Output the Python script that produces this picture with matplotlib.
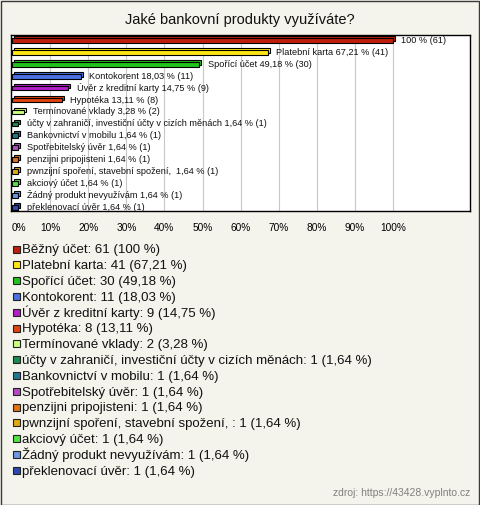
import matplotlib
matplotlib.use("Agg")
import matplotlib.pyplot as plt
from matplotlib.patches import Rectangle
from matplotlib.transforms import offset_copy

# === DATA ===
nazvy = [
    "Běžný účet", "Platební karta", "Spořící účet", "Kontokorent",
    "Úvěr z kreditní karty", "Hypotéka", "Termínované vklady",
    "účty v zahraničí, investiční účty v cizích měnách",
    "Bankovnictví v mobilu", "Spotřebitelský úvěr", "penzijni pripojisteni",
    "pwnzijní spoření, stavební spožení, ", "akciový účet",
    "Žádný produkt nevyužívám", "překlenovací úvěr",
]
pocty = [61, 41, 30, 11, 9, 8, 2, 1, 1, 1, 1, 1, 1, 1, 1]
procenta = [100, 67.21, 49.18, 18.03, 14.75, 13.11, 3.28,
            1.64, 1.64, 1.64, 1.64, 1.64, 1.64, 1.64, 1.64]
barvy = ["#bf1e0c", "#ffe614", "#22c21c", "#4a70e2", "#b41ec8", "#e2420e",
         "#c8ff7c", "#1a8c50", "#22788e", "#b24ac2", "#e27212", "#e2aa12",
         "#52e242", "#6a96e2", "#2a4ab2"]
ticky = list(range(0, 101, 10))

bg = "#f4f3ec"
plt.rcParams["font.family"] = ["Liberation Sans", "DejaVu Sans"]

fig = plt.figure(figsize=(4.8, 5.05), dpi=100, facecolor=bg)
W, H = 480, 505

# ram kolem celeho obrazku
fig.patches.append(Rectangle((0.5 / W, 0.5 / H), 1 - 1.5 / W, 1 - 1.5 / H,
                             transform=fig.transFigure, fill=False,
                             edgecolor="#3a3a3a", linewidth=1))

fig.text(0.5, 1 - 20 / H, "Jaké bankovní produkty využíváte?",
         ha="center", va="center", fontsize=10.5, color="#111111")

ax = fig.add_axes([11 / W, 1 - 211 / H, 459 / W, 176 / H])
ax.set_facecolor("white")
ax.set_xlim(-0.26, 120.2)
ax.set_ylim(14.3, -0.45)

for x in ticky[1:]:
    ax.axvline(x, color="#c8c8c8", linewidth=0.8, zorder=0)

# 3D efekt: zadni sloupec posunuty doprava nahoru
y = list(range(len(procenta)))
zadni = offset_copy(ax.transData, fig=fig, x=2, y=2, units="dots")
ax.barh(y, procenta, height=0.4, color=barvy, edgecolor="black",
        linewidth=0.8, transform=zadni, zorder=2)
ax.barh(y, procenta, height=0.4, color=barvy, edgecolor="black",
        linewidth=0.8, zorder=3)

for i, (n, p, c) in enumerate(zip(nazvy, procenta, pocty)):
    ps = f"{p:g}".replace(".", ",")
    if i == 0:
        txt = f"{ps} % ({c})"
    else:
        txt = f"{n} {ps} % ({c})"
    ax.text(p + 2.2, i, txt, va="center", ha="left", fontsize=6.6,
            color="#111111", zorder=4)

ax.set_xticks(ticky)
ax.set_xticklabels([f"{t}%" for t in ticky], fontsize=7.3)
ax.get_xticklabels()[0].set_horizontalalignment("left")
ax.tick_params(axis="x", length=0, pad=9)
ax.set_yticks([])
for s in ax.spines.values():
    s.set_linewidth(1)
    s.set_color("black")

# legenda
y0, dy = 249, 15.8
for i, (n, p, c, b) in enumerate(zip(nazvy, procenta, pocty, barvy)):
    yc = y0 + i * dy
    fig.patches.append(Rectangle((13 / W, 1 - (yc + 3.5) / H), 7 / W, 7 / H,
                                 transform=fig.transFigure, facecolor=b,
                                 edgecolor="#222222", linewidth=0.8))
    ps = f"{p:g}".replace(".", ",")
    fig.text(21.5 / W, 1 - (yc + 4.3) / H, f"{n}: {c} ({ps} %)", ha="left",
             va="baseline", fontsize=9.5, color="#111111")

fig.text(470 / W, 1 - 493 / H, "zdroj: https://43428.vyplnto.cz",
         ha="right", va="center", fontsize=7.5, color="#808080")

fig.savefig("out.png", dpi=100, facecolor=bg)
